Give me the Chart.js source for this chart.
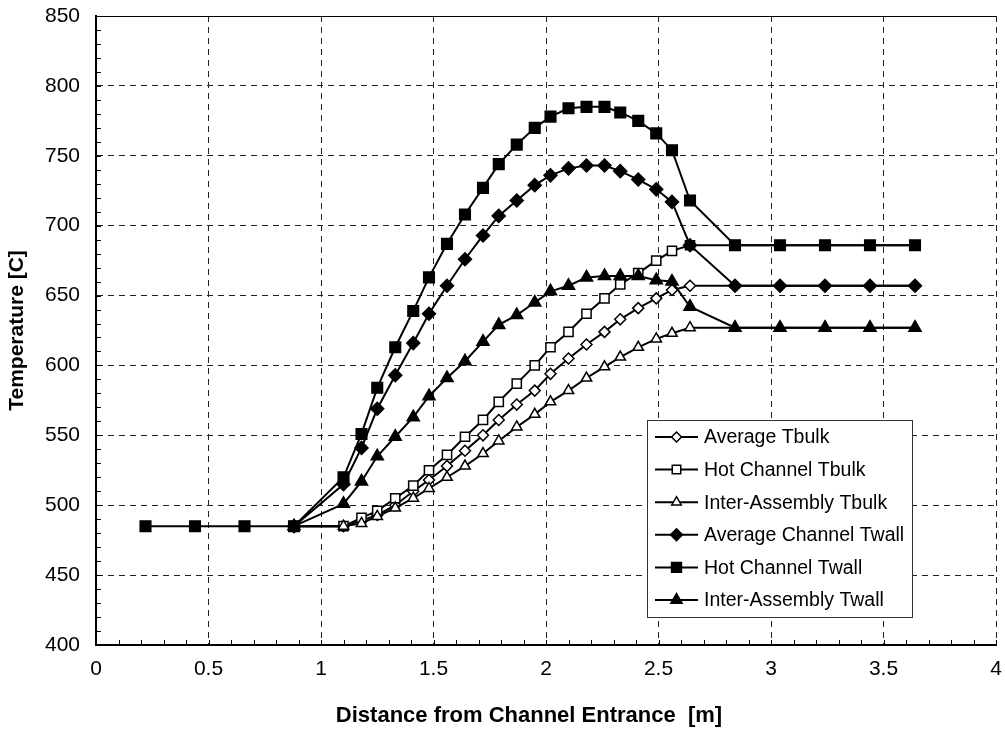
<!DOCTYPE html>
<html>
<head>
<meta charset="utf-8">
<script src="https://cdn.jsdelivr.net/npm/chart.js@4.4.1/dist/chart.umd.min.js"></script>
<style>
  html, body { margin: 0; padding: 0; background: #fff; }
  #wrap { width: 1005px; height: 734px; }
</style>
</head>
<body>
<div id="wrap"><canvas id="chart" width="1005" height="734"></canvas></div>
<script>
// distance from channel entrance [m]
const distance = [0.22, 0.44, 0.66, 0.88, 1.10, 1.18, 1.25, 1.33, 1.41, 1.48, 1.56, 1.64, 1.72, 1.79, 1.87,
    1.95, 2.02, 2.10, 2.18, 2.26, 2.33, 2.41, 2.49, 2.56, 2.64, 2.84, 3.04, 3.24, 3.44, 3.64];

// temperatures [C]
const avgTbulk = [null, null, null, 485, 485, 489, 493, 500, 510, 518, 528, 539, 550, 561, 572,
    582, 594, 605, 615, 624, 633, 641, 648, 654, 657, 657, 657, 657, 657, 657];
const hotTbulk = [null, null, null, 485, 485, 491, 496, 505, 514, 525, 536, 549, 561, 574, 587,
    600, 613, 624, 637, 648, 658, 666, 675, 682, 686, 686, 686, 686, 686, 686];
const interTbulk = [null, null, null, 485, 485, 487, 492, 498, 505, 512, 520, 528, 537, 546, 556,
    565, 574, 582, 591, 599, 606, 613, 619, 623, 627, 627, 627, 627, 627, 627];
const avgTwall = [null, null, null, 485, 515, 541, 569, 593, 616, 637, 657, 676, 693, 707, 718,
    729, 736, 741, 743, 743, 739, 733, 726, 717, 686, 657, 657, 657, 657, 657];
const hotTwall = [485, 485, 485, 485, 520, 551, 584, 613, 639, 663, 687, 708, 727, 744, 758,
    770, 778, 784, 785, 785, 781, 775, 766, 754, 718, 686, 686, 686, 686, 686];
const interTwall = [null, null, null, 485, 501, 517, 535, 549, 563, 578, 591, 603, 617, 629, 636,
    645, 653, 657, 663, 664, 664, 664, 661, 660, 642, 627, 627, 627, 627, 627];

const seriesNames = ['Average Tbulk', 'Hot Channel Tbulk', 'Inter-Assembly Tbulk',
    'Average Channel Twall', 'Hot Channel Twall', 'Inter-Assembly Twall'];

const FONT = "'Liberation Sans', Arial, Helvetica, sans-serif";

const toPoints = (vals) => vals.map((v, i) => ({ x: distance[i], y: v }));

// marker style per series
const markers = [
    { style: 'rectRot', radius: 5.5, fill: '#fff' },
    { style: 'rect', radius: 6.5, fill: '#fff' },
    { style: 'triangle', radius: 6, fill: '#fff' },
    { style: 'rectRot', radius: 6.5, fill: '#000' },
    { style: 'rect', radius: 7.5, fill: '#000' },
    { style: 'triangle', radius: 7, fill: '#000' }
];
// later series drawn on top, hot channel wall on top of all
const drawOrder = [6, 5, 4, 3, 1, 2];

const allSeries = [avgTbulk, hotTbulk, interTbulk, avgTwall, hotTwall, interTwall];

const datasets = allSeries.map((vals, i) => ({
    label: seriesNames[i],
    data: toPoints(vals),
    borderColor: '#000',
    borderWidth: 2,
    pointStyle: markers[i].style,
    pointRadius: markers[i].radius,
    pointBackgroundColor: markers[i].fill,
    pointBorderColor: '#000',
    pointBorderWidth: 1.5,
    spanGaps: false,
    order: drawOrder[i],
    tension: 0
}));

// draws a marker with the same geometry as Chart.js
function drawMarker(ctx, m, x, y) {
    const r = m.radius;
    ctx.beginPath();
    if (m.style === 'rect') {
        const s = Math.SQRT1_2 * r;
        ctx.rect(x - s, y - s, 2 * s, 2 * s);
    } else if (m.style === 'rectRot') {
        ctx.moveTo(x - r, y);
        ctx.lineTo(x, y - r);
        ctx.lineTo(x + r, y);
        ctx.lineTo(x, y + r);
        ctx.closePath();
    } else {
        const a = 2 * Math.PI / 3;
        ctx.moveTo(x, y - r);
        ctx.lineTo(x + Math.sin(a) * r, y - Math.cos(a) * r);
        ctx.lineTo(x + Math.sin(2 * a) * r, y - Math.cos(2 * a) * r);
        ctx.closePath();
    }
    ctx.fillStyle = m.fill;
    ctx.fill();
    ctx.lineWidth = 1.5;
    ctx.strokeStyle = '#000';
    ctx.stroke();
}

const decorPlugin = {
    id: 'decor',
    beforeDatasetsDraw(chart) {
        const { ctx, chartArea: a, scales } = chart;
        ctx.save();
        ctx.strokeStyle = '#000';
        ctx.lineWidth = 1;
        // minor ticks on the left axis, pointing inward
        for (let v = 400; v <= 850; v += 10) {
            const y = Math.round(scales.y.getPixelForValue(v)) + 0.5;
            ctx.beginPath();
            ctx.moveTo(a.left, y);
            ctx.lineTo(a.left + 5, y);
            ctx.stroke();
        }
        // minor ticks on the bottom axis
        for (let k = 0; k <= 40; k++) {
            const x = Math.round(scales.x.getPixelForValue(k / 10)) + 0.5;
            ctx.beginPath();
            ctx.moveTo(x, a.bottom);
            ctx.lineTo(x, a.bottom - 5);
            ctx.stroke();
        }
        // top frame line
        ctx.beginPath();
        ctx.moveTo(a.left, a.top + 0.5);
        ctx.lineTo(a.right, a.top + 0.5);
        ctx.stroke();
        ctx.restore();
    },
    afterDraw(chart) {
        const { ctx } = chart;
        ctx.save();
        // x axis title
        ctx.fillStyle = '#000';
        ctx.font = 'bold 22px ' + FONT;
        ctx.textAlign = 'center';
        ctx.textBaseline = 'middle';
        ctx.fillText('Distance from Channel Entrance  [m]', 529, 716);

        // legend box
        const box = { x: 647, y: 420, w: 265, h: 197 };
        ctx.fillStyle = '#fff';
        ctx.fillRect(box.x, box.y, box.w, box.h);
        ctx.strokeStyle = '#333';
        ctx.lineWidth = 1;
        ctx.strokeRect(box.x + 0.5, box.y + 0.5, box.w, box.h);

        ctx.font = '19.5px ' + FONT;
        ctx.textAlign = 'left';
        seriesNames.forEach((name, i) => {
            const cy = 437 + i * 32.6;
            ctx.strokeStyle = '#000';
            ctx.lineWidth = 2;
            ctx.beginPath();
            ctx.moveTo(655, cy);
            ctx.lineTo(698, cy);
            ctx.stroke();
            drawMarker(ctx, { ...markers[i], radius: markers[i].radius - 0.5 }, 676.5, cy);
            ctx.fillStyle = '#000';
            ctx.fillText(name, 704, cy + 1);
        });
        ctx.restore();
    }
};

const ctx = document.getElementById('chart').getContext('2d');
new Chart(ctx, {
    type: 'line',
    data: { datasets },
    plugins: [decorPlugin],
    options: {
        responsive: false,
        animation: false,
        layout: { padding: { top: 16, right: 9, left: 0, bottom: 0 }, autoPadding: false },
        plugins: { legend: { display: false }, tooltip: { enabled: false } },
        scales: {
            x: {
                type: 'linear',
                min: 0,
                max: 4,
                ticks: {
                    stepSize: 0.5,
                    color: '#000',
                    padding: 12,
                    maxRotation: 0,
                    font: { family: FONT, size: 21 },
                    callback: (v) => String(Math.round(v * 10) / 10)
                },
                grid: { color: '#222', lineWidth: 1, drawTicks: false },
                border: { display: true, color: '#000', width: 2, dash: [6, 5] },
                afterFit: (scale) => {
                    scale.height = 89;
                    scale.paddingLeft = 0;
                    scale.paddingRight = 0;
                }
            },
            y: {
                type: 'linear',
                min: 400,
                max: 850,
                ticks: {
                    stepSize: 50,
                    color: '#000',
                    padding: 16,
                    font: { family: FONT, size: 21 }
                },
                grid: { color: '#222', lineWidth: 1, drawTicks: false },
                border: { display: true, color: '#000', width: 2, dash: [6, 5] },
                title: {
                    display: true,
                    text: 'Temperature [C]',
                    color: '#000',
                    padding: { top: 5, bottom: 0 },
                    font: { family: FONT, size: 21, weight: 'bold' }
                },
                afterFit: (scale) => {
                    scale.width = 96;
                    scale.paddingTop = 0;
                    scale.paddingBottom = 0;
                }
            }
        }
    }
});
</script>
</body>
</html>
